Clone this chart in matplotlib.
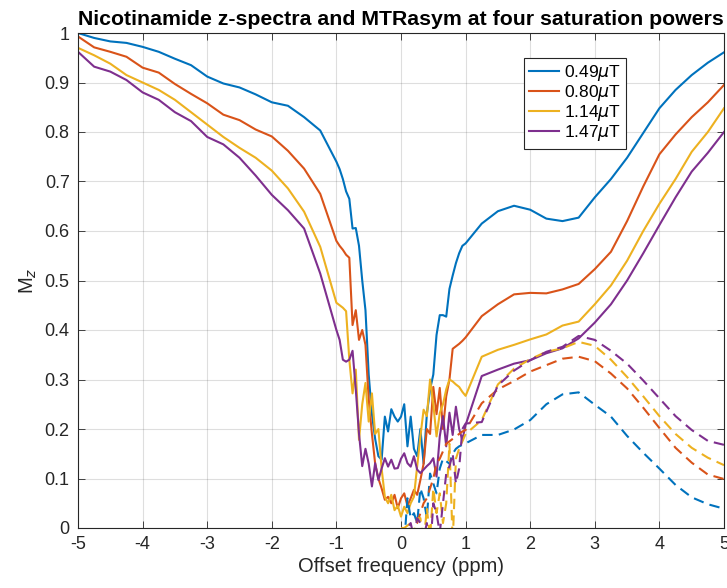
import numpy as np
import matplotlib
matplotlib.use('Agg')
import matplotlib.pyplot as plt
from matplotlib.ticker import FuncFormatter

plt.rcParams['font.family'] = ['Liberation Sans', 'DejaVu Sans']
plt.rcParams['axes.unicode_minus'] = False

# saturation offsets (ppm)
offsets = [-5, -4.75, -4.5, -4.25, -4, -3.75, -3.5, -3.25, -3, -2.75, -2.5, -2.25, -2, -1.75, -1.5, -1.25,
           -1, -0.95, -0.9, -0.85, -0.8, -0.75, -0.7, -0.65, -0.6, -0.55, -0.5, -0.45, -0.4, -0.35,
           -0.3, -0.25, -0.2, -0.15, -0.1, -0.05,
           0, 0.05, 0.1, 0.15, 0.2, 0.25, 0.3, 0.35, 0.4, 0.45, 0.5, 0.55, 0.6, 0.65, 0.7, 0.75,
           0.8, 0.85, 0.9, 0.95, 1,
           1.25, 1.5, 1.75, 2, 2.25, 2.5, 2.75, 3, 3.25, 3.5, 3.75, 4, 4.25, 4.5, 4.75, 5]

# positive offsets for MTRasym
offsets_pos = [0, 0.05, 0.1, 0.15, 0.2, 0.25, 0.3, 0.35, 0.4, 0.45, 0.5, 0.55, 0.6, 0.65, 0.7, 0.75,
               0.8, 0.85, 0.9, 0.95, 1,
               1.25, 1.5, 1.75, 2, 2.25, 2.5, 2.75, 3, 3.25, 3.5, 3.75, 4, 4.25, 4.5, 4.75, 5]

labels = ['0.49$\\mu$T', '0.80$\\mu$T', '1.14$\\mu$T', '1.47$\\mu$T']
colors = ['#0072BD', '#D95319', '#EDB120', '#7E2F8E']

# z-spectra
z_049 = [1.000, 0.990, 0.983, 0.980, 0.972, 0.962, 0.948, 0.935, 0.912, 0.898, 0.890, 0.876, 0.860, 0.853, 0.830, 0.803,
         0.740, 0.725, 0.705, 0.680, 0.665, 0.605, 0.606, 0.570, 0.500, 0.440, 0.310, 0.230, 0.180, 0.145,
         0.138, 0.225, 0.195, 0.240, 0.225, 0.215,
         0.225, 0.250, 0.165, 0.225, 0.160, 0.145, 0.200, 0.130, 0.230, 0.280, 0.310, 0.390, 0.430, 0.430, 0.427, 0.483,
         0.510, 0.535, 0.555, 0.570, 0.575,
         0.615, 0.640, 0.651, 0.643, 0.625, 0.620, 0.627, 0.668, 0.705, 0.748, 0.798, 0.848, 0.885, 0.915, 0.940, 0.961]
z_080 = [0.993, 0.971, 0.962, 0.952, 0.930, 0.920, 0.897, 0.877, 0.858, 0.835, 0.824, 0.805, 0.791, 0.762, 0.726, 0.675,
         0.580, 0.570, 0.562, 0.552, 0.546, 0.410, 0.440, 0.380, 0.400, 0.370, 0.260, 0.190, 0.130, 0.100,
         0.080, 0.057, 0.063, 0.050, 0.067, 0.040,
         0.060, 0.070, 0.045, 0.060, 0.077, 0.067, 0.097, 0.130, 0.200, 0.190, 0.285, 0.230, 0.283, 0.200, 0.266, 0.300,
         0.362, 0.367, 0.372, 0.378, 0.385,
         0.428, 0.452, 0.472, 0.475, 0.474, 0.482, 0.493, 0.523, 0.558, 0.620, 0.690, 0.755, 0.795, 0.830, 0.860, 0.895]
z_114 = [0.970, 0.955, 0.938, 0.915, 0.900, 0.885, 0.865, 0.840, 0.815, 0.790, 0.768, 0.748, 0.722, 0.686, 0.639, 0.568,
         0.455, 0.450, 0.445, 0.438, 0.340, 0.272, 0.320, 0.178, 0.250, 0.293, 0.215, 0.272, 0.190, 0.200,
         0.120, 0.063, 0.050, 0.067, 0.036, 0.045,
         0.023, 0.043, 0.030, 0.050, 0.063, 0.124, 0.185, 0.239, 0.226, 0.300, 0.250, 0.185, 0.232, 0.250, 0.280, 0.300,
         0.296, 0.290, 0.285, 0.275, 0.267,
         0.346, 0.360, 0.370, 0.381, 0.391, 0.409, 0.417, 0.452, 0.490, 0.540, 0.600, 0.655, 0.705, 0.760, 0.800, 0.848]
z_147 = [0.962, 0.932, 0.922, 0.905, 0.880, 0.865, 0.840, 0.822, 0.790, 0.775, 0.748, 0.712, 0.673, 0.642, 0.605, 0.514,
         0.400, 0.380, 0.340, 0.336, 0.340, 0.358, 0.280, 0.190, 0.125, 0.160, 0.130, 0.084, 0.131, 0.097,
         0.120, 0.141, 0.124, 0.138, 0.120, 0.121,
         0.140, 0.151, 0.131, 0.124, 0.145, 0.118, 0.111, 0.118, 0.125, 0.131, 0.141, 0.104, 0.185, 0.226, 0.165, 0.233,
         0.188, 0.245, 0.200, 0.178, 0.208,
         0.307, 0.320, 0.332, 0.339, 0.353, 0.363, 0.383, 0.415, 0.452, 0.500, 0.555, 0.612, 0.668, 0.720, 0.758, 0.800]

# MTRasym
mtr_049 = [0.000, -0.030, 0.060, 0.020, 0.030, 0.010, 0.080, 0.060, 0.020, 0.110, 0.090, 0.070, 0.120, 0.140, 0.135,
           0.130, 0.150, 0.160, 0.165, 0.168, 0.171,
           0.188, 0.188, 0.199, 0.218, 0.250, 0.270, 0.274, 0.249, 0.225, 0.186, 0.152, 0.120, 0.087, 0.062, 0.048, 0.039]
mtr_080 = [0.000, -0.010, 0.005, -0.010, 0.000, 0.010, 0.030, 0.050, 0.060, 0.080, 0.100, 0.130, 0.140, 0.155, 0.170,
           0.175, 0.180, 0.185, 0.190, 0.195, 0.198,
           0.252, 0.280, 0.297, 0.316, 0.329, 0.342, 0.346, 0.337, 0.312, 0.282, 0.243, 0.202, 0.162, 0.132, 0.108, 0.099]
mtr_114 = [0.000, 0.000, 0.005, 0.010, -0.010, 0.020, 0.020, -0.030, 0.040, -0.020, 0.080, 0.030, 0.070, 0.010, 0.050,
           0.170, -0.030, 0.140, 0.160, 0.175, 0.190,
           0.218, 0.290, 0.322, 0.341, 0.356, 0.363, 0.376, 0.368, 0.340, 0.305, 0.266, 0.226, 0.190, 0.162, 0.142, 0.127]
mtr_147 = [0.000, -0.030, 0.000, 0.010, -0.020, 0.020, 0.010, -0.020, 0.010, -0.050, 0.050, 0.030, -0.010, 0.050, 0.110,
           0.125, 0.150, 0.090, 0.120, 0.200, 0.211,
           0.214, 0.288, 0.318, 0.339, 0.356, 0.366, 0.388, 0.380, 0.358, 0.332, 0.298, 0.262, 0.226, 0.198, 0.176, 0.168]

zspec = [z_049, z_080, z_114, z_147]
mtr = [mtr_049, mtr_080, mtr_114, mtr_147]

fig = plt.figure(figsize=(7.27, 5.88), dpi=100)
ax = fig.add_axes([78/727, 60/588, 646/727, 495/588])

for z, c, lab in zip(zspec, colors, labels):
    ax.plot(offsets, z, color=c, lw=1.5, label=lab)
for m, c in zip(mtr, colors):
    ax.plot(offsets_pos, m, color=c, lw=1.5, ls=(0, (5, 3)))

ax.set_xlim(-5, 5)
ax.set_ylim(0, 1)
ax.set_xticks(np.arange(-5, 6, 1))
ax.set_yticks(np.arange(0, 1.01, 0.1))
ax.yaxis.set_major_formatter(FuncFormatter(lambda v, p: '%g' % round(v, 2)))
ax.grid(True, color='#262626', alpha=0.15, lw=0.8)
ax.set_axisbelow(True)
ax.tick_params(direction='in', length=4.7, width=0.6, colors='#262626', labelsize=13,
               top=True, right=True, pad=6)
for s in ax.spines.values():
    s.set_color('#262626')
    s.set_linewidth(0.8)

ax.set_xlabel('Offset frequency (ppm)', fontsize=14.5, color='#262626', labelpad=3)
ax.set_ylabel('M$_z$', fontsize=14.5, color='#262626', labelpad=4)
ax.set_title('Nicotinamide z-spectra and MTRasym at four saturation powers',
             fontsize=15.3, fontweight='bold', pad=6)

leg = ax.legend(loc='upper left', bbox_to_anchor=(0.690, 0.949), fontsize=12.5,
                fancybox=False, framealpha=1, edgecolor='#262626',
                handlelength=1.75, handletextpad=0.25, labelspacing=0.0, borderpad=0.3,
                borderaxespad=0)
leg.get_frame().set_linewidth(0.8)

fig.savefig('out.png', dpi=100)
